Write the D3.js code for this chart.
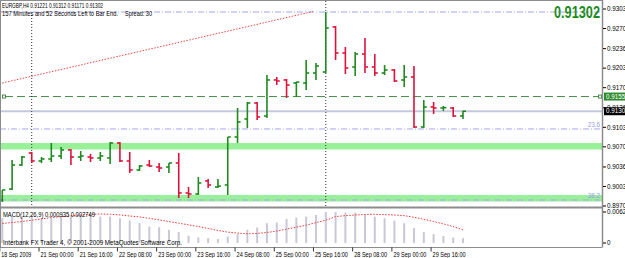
<!DOCTYPE html>
<html><head><meta charset="utf-8">
<script src="https://cdn.jsdelivr.net/npm/d3@7"></script>
<style>body{margin:0;background:#fff;overflow:hidden}svg{display:block}text{font-family:"Liberation Sans",Arial,sans-serif}</style>
</head><body>
<script>
// ---- data ----
const openP  = [0.89802,0.89987,0.90393,0.90596,0.90461,0.90495,0.90545,0.90647,0.90528,0.90528,0.90512,0.90512,0.90765,0.90461,0.90309,0.90393,0.90359,0.90359,0.90427,0.89920,0.89903,0.90123,0.90021,0.90055,0.90866,0.91171,0.91441,0.91221,0.91830,0.91830,0.91779,0.91779,0.91948,0.91965,0.92726,0.92286,0.92050,0.92269,0.92050,0.91948,0.91999,0.91830,0.91881,0.91035,0.91374,0.91357,0.91357,0.91221];
const highP  = [0.89971,0.90478,0.90545,0.90613,0.90528,0.90765,0.90697,0.90664,0.90630,0.90579,0.90613,0.90782,0.90782,0.90613,0.90393,0.90478,0.90427,0.90427,0.90596,0.90021,0.90190,0.90157,0.90157,0.90866,0.91357,0.91458,0.91458,0.91914,0.91881,0.91847,0.91796,0.92168,0.92117,0.92979,0.92743,0.92388,0.92303,0.92540,0.92269,0.92083,0.92016,0.92083,0.92067,0.91492,0.91458,0.91390,0.91374,0.91312];
const lowP   = [0.89768,0.89971,0.90376,0.90427,0.90427,0.90444,0.90495,0.90393,0.90461,0.90444,0.90461,0.90410,0.90444,0.90258,0.90292,0.90359,0.90275,0.90258,0.89835,0.89835,0.89886,0.90004,0.90004,0.89886,0.90765,0.91019,0.91154,0.91188,0.91745,0.91526,0.91543,0.91661,0.91830,0.91948,0.92168,0.91931,0.91898,0.91948,0.91898,0.91914,0.91796,0.91712,0.91019,0.91019,0.91255,0.91306,0.91205,0.91171];
const closeP = [0.89971,0.90393,0.90528,0.90461,0.90495,0.90545,0.90647,0.90528,0.90545,0.90512,0.90545,0.90765,0.90461,0.90309,0.90376,0.90376,0.90342,0.90427,0.89920,0.89903,0.90089,0.90055,0.90038,0.90866,0.91120,0.91441,0.91205,0.91830,0.91813,0.91745,0.91796,0.91948,0.92067,0.92709,0.92286,0.92033,0.92269,0.92050,0.91948,0.91999,0.91813,0.91881,0.91035,0.91374,0.91357,0.91362,0.91221,0.91302];
const macdHist = [0.00500,0.00530,0.00530,0.00563,0.00497,0.00497,0.00530,0.00530,0.00563,0.00563,0.00530,0.00530,0.00497,0.00451,0.00398,0.00331,0.00318,0.00265,0.00219,0.00146,0.00113,0.00099,0.00080,0.00133,0.00179,0.00265,0.00312,0.00398,0.00411,0.00484,0.00510,0.00530,0.00563,0.00623,0.00623,0.00610,0.00610,0.00563,0.00530,0.00497,0.00451,0.00398,0.00298,0.00219,0.00179,0.00140,0.00110,0.00094];
const macdSignal = [0.00391,0.00411,0.00431,0.00457,0.00484,0.00510,0.00530,0.00547,0.00563,0.00577,0.00583,0.00577,0.00563,0.00543,0.00524,0.00497,0.00464,0.00431,0.00398,0.00365,0.00331,0.00292,0.00252,0.00219,0.00199,0.00186,0.00192,0.00212,0.00239,0.00278,0.00318,0.00358,0.00411,0.00457,0.00530,0.00550,0.00563,0.00573,0.00577,0.00570,0.00563,0.00550,0.00517,0.00477,0.00431,0.00384,0.00331,0.00265];
const timeTickIdx = [0,4,8,12,16,20,24,28,32,36,40,44];
const timeTickLabels = ["18 Sep 2009","21 Sep 00:00","21 Sep 16:00","22 Sep 08:00","23 Sep 00:00","23 Sep 16:00","24 Sep 08:00","25 Sep 00:00","25 Sep 16:00","28 Sep 08:00","29 Sep 00:00","29 Sep 16:00"];
const priceTicks = [0.93030,0.92700,0.92360,0.92030,0.91700,0.91360,0.91030,0.90700,0.90360,0.90030,0.89700];
const macdTicks = [0.00623,0];
const fibLevels = [0.92979,0.91002,0.89801];
const fibLabels = ["0.0","23.6","38.2"];
const zones = [[0.90655,0.90765],[0.89776,0.89886]];
const hLevel = 0.91550;
const bidPrice = 0.91302;
const trendIdx = [0,31.7];
const trendPrice = [0.91779,0.92988];
const vLineIdx = [3,33];
const titleLine1 = "EURGBP,H4  0.91221 0.91312 0.91171 0.91302";
const titleLine2 = "157 Minutes and 52 Seconds Left to Bar End.";
const spreadText = "Spread: 30";
const macdTitle = "MACD(12,26,9) 0.000935 0.002749";
const copyright = "Interbank FX Trader 4, © 2001-2009 MetaQuotes Software Corp.";

// ---- layout ----
const W=625,H=258, axisX=602, mainTop=1, mainBot=207, macdTop=208, macdBot=247.5;
const svg=d3.select("body").append("svg").attr("width",W).attr("height",H);
const x=d3.scaleLinear().domain([0,47]).range([2.3,463]);
const y=d3.scaleLinear().domain([0.89700,0.93030]).range([206,9]);
const ym=d3.scaleLinear().domain([0,0.00623]).range([243,212]);
const FS=6.3;
const GREEN="#1f8a1f", RED="#dc143c";

// helper: small condensed text with fixed width
function label(g,tx,ty,str,len,attrs){
  const t=g.append("text").attr("x",tx).attr("y",ty).attr("font-size",FS).text(str);
  if(len) t.attr("textLength",len).attr("lengthAdjust","spacingAndGlyphs");
  if(attrs) Object.entries(attrs).forEach(([k,v])=>t.attr(k,v));
  return t;
}

svg.append("defs").append("clipPath").attr("id","cm").append("rect").attr("x",0).attr("y",mainTop).attr("width",axisX).attr("height",mainBot-mainTop);
const main=svg.append("g").attr("clip-path","url(#cm)");

// zones
main.selectAll("rect.z").data(zones).join("rect").attr("x",0).attr("width",axisX)
  .attr("y",d=>y(d[1])).attr("height",d=>y(d[0])-y(d[1])).attr("fill","#98f098");
// fib lines
main.selectAll("line.f").data(fibLevels).join("line").attr("x1",0).attr("x2",axisX)
  .attr("y1",d=>y(d)).attr("y2",d=>y(d)).attr("stroke","#a6a6ee").attr("stroke-width",1).attr("stroke-dasharray","6,2,1,2");
main.selectAll("text.f").data(fibLevels.slice(1)).join("text").attr("x",axisX-2).attr("y",d=>y(d)-2)
  .attr("text-anchor","end").attr("font-size",FS).attr("fill","#9a9ae8").text((d,i)=>fibLabels[i+1]);
// bid line
main.append("line").attr("x1",0).attr("x2",axisX).attr("y1",y(bidPrice)).attr("y2",y(bidPrice)).attr("stroke","#c4c8dc").attr("stroke-width",2);
// green dashed level
main.append("line").attr("x1",5).attr("x2",axisX-4).attr("y1",y(hLevel)).attr("y2",y(hLevel)).attr("stroke","#4a8a4a").attr("stroke-dasharray","8,4");
[2,axisX-4].forEach(px=>main.append("rect").attr("x",px+0.5).attr("y",y(hLevel)-1.5).attr("width",3).attr("height",3).attr("fill","none").attr("stroke","#4a8a4a"));
// trend line
main.append("line").attr("x1",x(trendIdx[0])-3).attr("y1",y(trendPrice[0])+0.7).attr("x2",x(trendIdx[1])).attr("y2",y(trendPrice[1]))
  .attr("stroke","#f04848").attr("stroke-dasharray","1.5,1.5").attr("stroke-width",1);
// vertical dotted lines
main.selectAll("line.v").data(vLineIdx).join("line").attr("x1",d=>x(d)).attr("x2",d=>x(d)).attr("y1",(d,i)=>i===0?15:1).attr("y2",mainBot)
  .attr("stroke","#333").attr("stroke-dasharray","1,2");

// OHLC bars
const idx=d3.range(openP.length);
const col=i=>closeP[i]>=openP[i]?GREEN:RED;
const bg=main.append("g").attr("stroke-width",1.6);
bg.selectAll("line.hl").data(idx).join("line").attr("x1",i=>x(i)).attr("x2",i=>x(i)).attr("y1",i=>y(highP[i])).attr("y2",i=>y(lowP[i])).attr("stroke",col);
bg.selectAll("line.o").data(idx).join("line").attr("x1",i=>x(i)-3).attr("x2",i=>x(i)).attr("y1",i=>y(openP[i])).attr("y2",i=>y(openP[i])).attr("stroke",col);
bg.selectAll("line.c").data(idx).join("line").attr("x1",i=>x(i)).attr("x2",i=>x(i)+3).attr("y1",i=>y(closeP[i])).attr("y2",i=>y(closeP[i])).attr("stroke",col);

// top texts
label(svg,2,8,titleLine1,101);
label(svg,2,16,titleLine2,116);
label(svg,125,16,spreadText,27);
svg.append("text").attr("x",600).attr("y",18).attr("text-anchor","end").attr("font-size",16).attr("font-weight","bold")
  .attr("fill","#1c8c1c").attr("textLength",46).attr("lengthAdjust","spacingAndGlyphs").text(d3.format(".5f")(closeP[closeP.length-1]));

// MACD panel
const mg=svg.append("g");
mg.selectAll("line.h").data(idx).join("line").attr("x1",i=>x(i)).attr("x2",i=>x(i)).attr("y1",ym(0)).attr("y2",i=>ym(macdHist[i]))
  .attr("stroke","#c8c8d6").attr("stroke-width",2);
mg.append("path").datum(idx).attr("d",d3.line().x(i=>x(i)).y(i=>ym(macdSignal[i])))
  .attr("fill","none").attr("stroke","#f03c3c").attr("stroke-width",1).attr("stroke-dasharray","1.5,1.5");
label(svg,3,217,macdTitle,92);
label(svg,3,245,copyright,179);

// frame
const fr=svg.append("g").attr("stroke","#8c8c8c");
fr.append("line").attr("x1",0).attr("x2",axisX).attr("y1",0.5).attr("y2",0.5);
fr.append("line").attr("x1",0.5).attr("x2",0.5).attr("y1",0).attr("y2",macdBot);
fr.append("line").attr("x1",0).attr("x2",axisX).attr("y1",mainBot+0.5).attr("y2",mainBot+0.5).attr("stroke-width",2);
fr.append("line").attr("x1",0).attr("x2",axisX).attr("y1",macdBot).attr("y2",macdBot);
fr.append("line").attr("x1",axisX+0.5).attr("x2",axisX+0.5).attr("y1",0).attr("y2",macdBot).attr("stroke-width",1.5);

// price axis
const pa=svg.append("g");
priceTicks.forEach(p=>{
  pa.append("line").attr("x1",axisX+1).attr("x2",axisX+4).attr("y1",y(p)).attr("y2",y(p)).attr("stroke","#000");
  pa.append("text").attr("x",axisX+5).attr("y",y(p)).attr("dy","0.35em").attr("font-size",FS).text(d3.format(".5f")(p));
});
[[hLevel,"#2e8b2e"],[bidPrice,"#000"]].forEach(([p,c])=>{
  pa.append("rect").attr("x",axisX+2).attr("y",y(p)-4).attr("width",24).attr("height",8).attr("fill",c);
  pa.append("text").attr("x",axisX+4).attr("y",y(p)).attr("dy","0.35em").attr("font-size",FS).attr("fill","#fff").text(d3.format(".5f")(p));
});
macdTicks.forEach(v=>{
  pa.append("line").attr("x1",axisX+1).attr("x2",axisX+4).attr("y1",ym(v)).attr("y2",ym(v)).attr("stroke","#000");
  pa.append("text").attr("x",axisX+5).attr("y",ym(v)).attr("dy","0.35em").attr("font-size",FS).text(v===0?"0":d3.format(".5f")(v));
});

// time axis
const ta=svg.append("g");
timeTickIdx.forEach((i,k)=>{
  ta.append("line").attr("x1",x(i)-2.5).attr("x2",x(i)-2.5).attr("y1",macdBot).attr("y2",macdBot+4).attr("stroke","#000").attr("stroke-width",0.8);
  label(ta,x(i)-1,256.5,timeTickLabels[k],k===0?30:33);
});
</script>
</body></html>
